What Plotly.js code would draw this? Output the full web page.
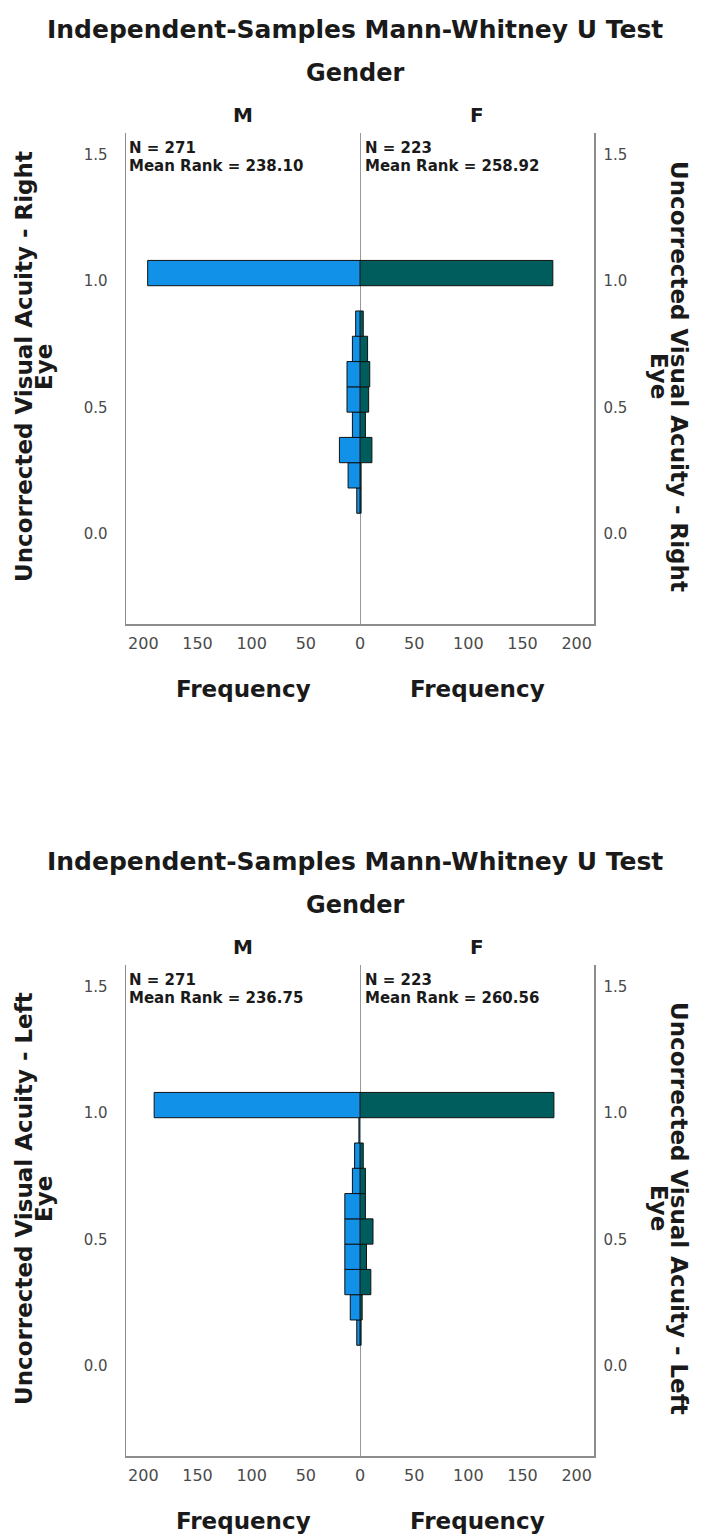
<!DOCTYPE html>
<html>
<head>
<meta charset="utf-8">
<script src="https://cdn.plot.ly/plotly-3.0.1.min.js"></script>
<style>
  html, body { margin: 0; padding: 0; background: #ffffff; }
  #chart { width: 710px; height: 1536px; }
</style>
</head>
<body>
<div id="chart"></div>
<script>
// ---- data ----
const acuityBins = [0.1, 0.2, 0.3, 0.4, 0.5, 0.6, 0.7, 0.8, 0.9, 1.0];

const rightEyeMale   = [3, 11, 19, 7, 12, 12, 7, 4, 0, 196];   // N = 271
const rightEyeFemale = [1, 1, 11, 5, 8, 9, 7, 3, 0, 178];      // N = 223

const leftEyeMale    = [3, 9, 14, 14, 14, 14, 7, 5, 1, 190];   // N = 271
const leftEyeFemale  = [1, 2, 10, 6, 12, 5, 5, 3, 0, 179];     // N = 223

const groupLabels = ["M", "F"];
const groupN = [271, 223];
const rightEyeMeanRank = ["238.10", "258.92"];
const leftEyeMeanRank  = ["236.75", "260.56"];

const chartTitle = "Independent-Samples Mann-Whitney U Test";
const groupingTitle = "Gender";
const freqLabel = "Frequency";
const rightEyeLabel = ["Uncorrected Visual Acuity - Right", "Eye"];
const leftEyeLabel  = ["Uncorrected Visual Acuity - Left", "Eye"];

const freqTicks = [0, 50, 100, 150, 200];
const acuityTicks = [0.0, 0.5, 1.0, 1.5];

// ---- layout helpers ----
const W = 710, H = 1536;
const fx = p => p / W;
const fy = p => 1 - p / H;
const FONT = "DejaVu Sans";
const maleColor = "#1192e8";
const femaleColor = "#005d5d";
const axisGrey = "#8c8c8c";

const charts = [
  { off: 0,   male: rightEyeMale, female: rightEyeFemale, ranks: rightEyeMeanRank, label: rightEyeLabel },
  { off: 832, male: leftEyeMale,  female: leftEyeFemale,  ranks: leftEyeMeanRank,  label: leftEyeLabel }
];

const data = [];
const layout = {
  width: W, height: H,
  margin: { l: 0, r: 0, t: 0, b: 0 },
  paper_bgcolor: "#ffffff",
  plot_bgcolor: "#ffffff",
  showlegend: false,
  bargap: 0,
  font: { family: FONT, color: "#222" },
  annotations: [],
  shapes: []
};

const plotTop = 133, plotBottom = 624, plotLeft = 126, plotMid = 360, plotRight = 594;
const yRange = [-0.388, 1.554];
const xMax = 216;
const outline = vals => vals.map(v => (v > 0 ? 1 : 0));

charts.forEach((c, i) => {
  const o = c.off;
  const xl = 2 * i + 1, xr = 2 * i + 2;
  const xlId = xl === 1 ? "x" : "x" + xl;
  const xrId = "x" + xr;
  const ylId = xl === 1 ? "y" : "y" + xl;
  const yrId = "y" + xr;
  const xlKey = xl === 1 ? "xaxis" : "xaxis" + xl;
  const xrKey = "xaxis" + xr;
  const ylKey = xl === 1 ? "yaxis" : "yaxis" + xl;
  const yrKey = "yaxis" + xr;

  const yDom = [fy(plotBottom + o), fy(plotTop + o)];

  data.push({
    type: "bar", orientation: "h",
    x: c.male, y: acuityBins, width: 0.1,
    xaxis: xlId, yaxis: ylId,
    marker: { color: maleColor, line: { color: "#111", width: outline(c.male) } },
    hoverinfo: "x+y"
  });
  data.push({
    type: "bar", orientation: "h",
    x: c.female, y: acuityBins, width: 0.1,
    xaxis: xrId, yaxis: yrId,
    marker: { color: femaleColor, line: { color: "#111", width: outline(c.female) } },
    hoverinfo: "x+y"
  });

  const xCommon = {
    showgrid: false, zeroline: false, showline: true,
    linecolor: axisGrey, linewidth: 1.5, ticks: "",
    tickfont: { family: FONT, size: 16, color: "#4a4a4a" },
    ticklabelstandoff: 4,
    fixedrange: true
  };
  layout[xlKey] = Object.assign({}, xCommon, {
    domain: [fx(plotLeft), fx(plotMid)], anchor: ylId,
    range: [xMax, 0], tickvals: freqTicks
  });
  layout[xrKey] = Object.assign({}, xCommon, {
    domain: [fx(plotMid), fx(plotRight)], anchor: yrId,
    range: [0, xMax], tickvals: freqTicks.slice(1)
  });

  const yCommon = {
    domain: yDom, range: yRange,
    showgrid: false, zeroline: false, showline: true,
    linecolor: axisGrey, linewidth: 1.5, ticks: "",
    tickvals: acuityTicks, tickformat: ".1f",
    tickfont: { family: FONT, size: 15, color: "#4a4a4a" },
    ticklabelshift: 8,
    fixedrange: true
  };
  layout[ylKey] = Object.assign({}, yCommon, { anchor: xlId, side: "left", ticklabelstandoff: 14 });
  layout[yrKey] = Object.assign({}, yCommon, { anchor: xrId, side: "right", ticklabelstandoff: 5 });

  // centre (zero) line
  layout.shapes.push({
    type: "line", xref: xrId, x0: 0, x1: 0,
    yref: yrId + " domain", y0: 0, y1: 1,
    line: { color: "#777", width: 1.5 }, layer: "below"
  });

  const A = layout.annotations;
  const bold = (size) => ({ family: FONT, size: size, color: "#1a1a1a", weight: "bold" });
  const txt = (text, x, y, size, extra) => A.push(Object.assign({
    text: text, xref: "paper", yref: "paper", x: fx(x), y: fy(y + o),
    xanchor: "center", yanchor: "middle", showarrow: false, font: bold(size)
  }, extra || {}));

  txt(chartTitle, 355, 29, 25);
  txt(groupingTitle, 355, 73, 24);
  txt(groupLabels[0], 243, 115, 20);
  txt(groupLabels[1], 477, 115, 20);
  txt("N = " + groupN[0], 127, 148, 15, { xanchor: "left", align: "left" });
  txt("Mean Rank = " + c.ranks[0], 127, 165.5, 15, { xanchor: "left", align: "left" });
  txt("N = " + groupN[1], 363, 148, 15, { xanchor: "left", align: "left" });
  txt("Mean Rank = " + c.ranks[1], 363, 165.5, 15, { xanchor: "left", align: "left" });
  txt(freqLabel, 243, 689, 23);
  txt(freqLabel, 477, 689, 23);
  txt(c.label[0], 24, 367, 23, { textangle: -90 });
  txt(c.label[1], 44, 367, 23, { textangle: -90 });
  txt(c.label[0], 679, 376, 23, { textangle: 90 });
  txt(c.label[1], 659, 376, 23, { textangle: 90 });
});

Plotly.newPlot("chart", data, layout, { displayModeBar: false, staticPlot: true });
</script>
</body>
</html>
